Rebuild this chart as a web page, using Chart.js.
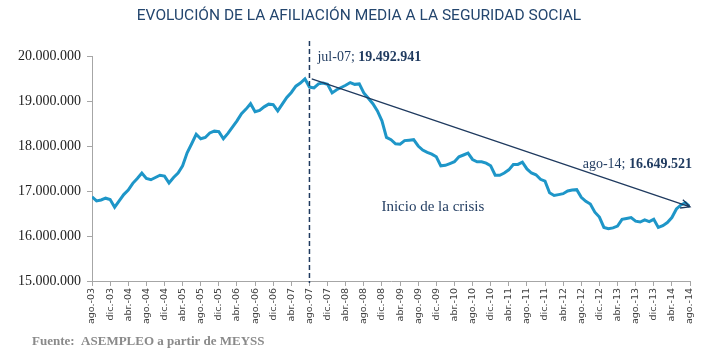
<!DOCTYPE html>
<html lang="es">
<head>
<meta charset="utf-8">
<title>Evolución de la afiliación media a la Seguridad Social</title>
<script src="https://cdn.jsdelivr.net/npm/chart.js@4.4.1/dist/chart.umd.min.js"></script>
<style>
    html, body { margin: 0; padding: 0; background: #fff; }
    #wrap { position: relative; width: 716px; height: 362px; }
</style>
</head>
<body>
<div id="wrap"><canvas id="afiliacion"></canvas></div>
<script>
// meses abreviados y serie mensual (afiliados medios) ago-03 .. ago-14
const monthNames = ['ene.', 'feb.', 'mar.', 'abr.', 'may.', 'jun.', 'jul.', 'ago.', 'sep.', 'oct.', 'nov.', 'dic.'];

const y2003 = [16870000, 16780000, 16800000, 16840000, 16810000];                      // ago-dic
const y2004 = [16640000, 16780000, 16920000, 17020000, 17170000, 17280000, 17400000, 17280000, 17250000, 17300000, 17350000, 17330000];
const y2005 = [17180000, 17300000, 17400000, 17560000, 17850000, 18050000, 18260000, 18160000, 18190000, 18290000, 18330000, 18320000];
const y2006 = [18160000, 18280000, 18420000, 18560000, 18720000, 18820000, 18940000, 18760000, 18790000, 18870000, 18930000, 18920000];
const y2007 = [18780000, 18930000, 19080000, 19190000, 19330000, 19400000, 19492941, 19310000, 19290000, 19380000, 19400000, 19370000];
const y2008 = [19180000, 19250000, 19300000, 19350000, 19410000, 19370000, 19380000, 19180000, 19060000, 18940000, 18780000, 18560000];
const y2009 = [18190000, 18140000, 18050000, 18040000, 18120000, 18130000, 18140000, 18000000, 17910000, 17860000, 17820000, 17760000];
const y2010 = [17560000, 17570000, 17610000, 17650000, 17760000, 17800000, 17840000, 17700000, 17650000, 17650000, 17620000, 17560000];
const y2011 = [17350000, 17350000, 17400000, 17470000, 17590000, 17590000, 17640000, 17490000, 17400000, 17360000, 17260000, 17220000];
const y2012 = [16960000, 16900000, 16920000, 16940000, 17000000, 17020000, 17030000, 16860000, 16770000, 16710000, 16530000, 16420000];
const y2013 = [16190000, 16160000, 16180000, 16220000, 16370000, 16390000, 16410000, 16330000, 16310000, 16360000, 16320000, 16370000];
const y2014 = [16190000, 16230000, 16300000, 16410000, 16600000, 16690000, 16740000, 16649521]; // ene-ago

const afiliados = [].concat(y2003, y2004, y2005, y2006, y2007, y2008, y2009, y2010, y2011, y2012, y2013, y2014);

// etiquetas de categoría: ago.-03, sep.-03, ...
const categories = afiliados.map((_, i) => {
    const m = (7 + i) % 12;
    const yr = 3 + Math.floor((7 + i) / 12);
    return monthNames[m] + '-' + String(yr).padStart(2, '0');
});

const yTicks = [15000000, 16000000, 17000000, 18000000, 19000000, 20000000];
const peakLabel = 'jul-07';
const lastLabel = 'ago-14';
const crisisLabel = 'Inicio de la crisis';

const navy = '#1f3a5f';
const axisGray = '#a6a6a6';

const fmt = (v) => String(Math.round(v)).replace(/\B(?=(\d{3})+(?!\d))/g, '.');

const peakIdx = categories.indexOf('jul.-07');
const lastIdx = categories.length - 1;

const extras = {
    id: 'extras',
    afterDatasetsDraw(chart) {
        const { ctx, scales: { x, y } } = chart;
        ctx.save();

        // línea vertical discontinua: inicio de la crisis
        const xc = x.getPixelForValue(peakIdx + 1);
        ctx.strokeStyle = navy;
        ctx.lineWidth = 1.5;
        ctx.setLineDash([5, 3]);
        ctx.beginPath();
        ctx.moveTo(xc, 41);
        ctx.lineTo(xc, y.bottom + 2);
        ctx.stroke();
        ctx.setLineDash([]);

        // flecha de tendencia
        const x0 = x.getPixelForValue(peakIdx + 1.5);
        const y0 = y.getPixelForValue(afiliados[peakIdx]);
        const x1 = x.getPixelForValue(lastIdx);
        const y1 = y.getPixelForValue(afiliados[lastIdx]);
        ctx.lineWidth = 1.3;
        ctx.beginPath();
        ctx.moveTo(x0, y0);
        ctx.lineTo(x1, y1);
        const ang = Math.atan2(y1 - y0, x1 - x0);
        const head = 10;
        ctx.moveTo(x1 - head * Math.cos(ang - 0.45), y1 - head * Math.sin(ang - 0.45));
        ctx.lineTo(x1, y1);
        ctx.lineTo(x1 - head * Math.cos(ang + 0.45), y1 - head * Math.sin(ang + 0.45));
        ctx.stroke();

        // etiquetas
        ctx.fillStyle = navy;
        ctx.textBaseline = 'middle';
        const mixed = (left, bold, px, py, align) => {
            ctx.font = '14px "Liberation Serif", serif';
            const w1 = ctx.measureText(left).width;
            ctx.font = 'bold 14px "Liberation Serif", serif';
            const w2 = ctx.measureText(bold).width;
            let sx = align === 'right' ? px - w1 - w2 : px;
            ctx.textAlign = 'left';
            ctx.font = '14px "Liberation Serif", serif';
            ctx.fillText(left, sx, py);
            ctx.font = 'bold 14px "Liberation Serif", serif';
            ctx.fillText(bold, sx + w1, py);
        };
        mixed(peakLabel + '; ', fmt(afiliados[peakIdx]), xc + 8, 57, 'left');
        mixed(lastLabel + '; ', fmt(afiliados[lastIdx]), x1 + 2, 164, 'right');

        ctx.font = '15px "Liberation Serif", serif';
        ctx.textAlign = 'left';
        ctx.fillText(crisisLabel, xc + 72, 207);

        // título y fuente
        ctx.textAlign = 'center';
        ctx.font = '15.5px Roboto, sans-serif';
        ctx.fillStyle = '#24466e';
        ctx.fillText('EVOLUCIÓN DE LA AFILIACIÓN MEDIA A LA SEGURIDAD SOCIAL', 359, 16);

        ctx.textAlign = 'left';
        ctx.font = 'bold 13px "Liberation Serif", serif';
        ctx.fillStyle = '#8a8a8a';
        ctx.fillText('Fuente:  ASEMPLEO a partir de MEYSS', 32, 342);

        ctx.restore();
    }
};

new Chart(document.getElementById('afiliacion'), {
    type: 'line',
    data: {
        datasets: [{
            data: afiliados.map((v, i) => ({ x: i, y: v })),
            borderColor: '#1e96c8',
            borderWidth: 3,
            pointRadius: 0,
            tension: 0,
            fill: false,
        }],
    },
    options: {
        responsive: true,
        maintainAspectRatio: false,
        animation: false,
        layout: { padding: { top: 56, left: 0, right: 26, bottom: 0 } },
        plugins: {
            legend: { display: false },
            title: { display: false },
            tooltip: { enabled: false },
        },
        scales: {
            x: {
                type: 'linear',
                min: 0,
                max: lastIdx,
                afterFit: (s) => { s.height = 81; },
                afterBuildTicks: (s) => {
                    s.ticks = categories.map((_, i) => ({ value: i })).filter((t) => t.value % 4 === 0);
                },
                grid: { drawOnChartArea: false, drawTicks: true, tickLength: 5, color: axisGray },
                border: { color: axisGray, width: 1 },
                ticks: {
                    autoSkip: false,
                    minRotation: 90,
                    maxRotation: 90,
                    padding: 2,
                    color: '#404040',
                    font: { family: '"DejaVu Sans", Verdana, sans-serif', size: 9.5 },
                    callback: (v) => categories[v],
                },
            },
            y: {
                min: 15000000,
                max: 20000000,
                afterFit: (s) => { s.width = 92; },
                afterBuildTicks: (s) => { s.ticks = yTicks.map((v) => ({ value: v })); },
                grid: { drawOnChartArea: false, drawTicks: true, tickLength: 5, color: axisGray },
                border: { color: axisGray, width: 1 },
                ticks: {
                    padding: 6,
                    color: '#222',
                    font: { family: '"Liberation Serif", serif', size: 14 },
                    callback: (v) => fmt(v),
                },
            },
        },
    },
    plugins: [extras],
});
</script>
</body>
</html>
